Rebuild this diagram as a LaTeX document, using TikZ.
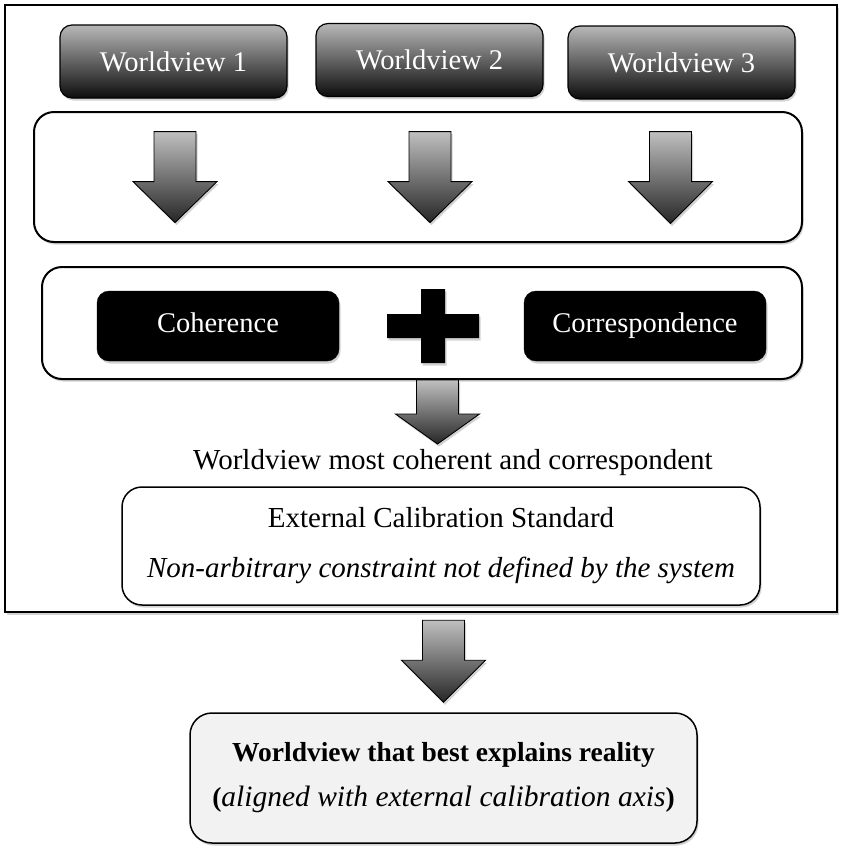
\documentclass[tikz,border=0pt]{standalone}
\usepackage{fontspec}
\setmainfont{Liberation Serif}
\usetikzlibrary{calc,shadows}

\newcommand\blockarrow[3]{\draw[blockarrow] (#1) ++(-21,0) -- ++(42,0) -- ++(0,#2) -- ++(21,0) -- ++(-42,#3) -- ++(-42,-#3) -- ++(21,0) -- cycle;}

\tikzset{
  softshadow/.style={drop shadow={opacity=0.35, shadow xshift=1.5pt, shadow yshift=-2.5pt}},
  wvbox/.style={draw=black, line width=1.2pt, rounded corners=12pt, top color=black!28, bottom color=black!95, text=white, minimum width=227pt, minimum height=73pt, softshadow, font=\fontsize{28.5}{34}\selectfont},
  critbox/.style={draw=black, fill=black, rounded corners=12pt, text=white, minimum width=242pt, minimum height=70pt, text height=19pt, text depth=6pt, softshadow, font=\fontsize{28.5}{34}\selectfont},
  panel/.style={draw=black, line width=2pt, fill=white, rounded corners=20pt, softshadow},
  calbox/.style={draw=black, line width=1.5pt, fill=white, rounded corners=20pt, minimum width=638pt, minimum height=118pt, align=center, softshadow, font=\fontsize{29}{50}\selectfont},
  resultbox/.style={draw=black, line width=1.5pt, fill=black!5, rounded corners=22pt, minimum width=507pt, minimum height=130pt, align=center, softshadow, font=\fontsize{27.5}{45}\selectfont},
  blockarrow/.style={draw=black, line width=0.9pt, top color=black!25, bottom color=black!85, softshadow}
}

\begin{document}
\begin{tikzpicture}[x=1pt, y=-1pt]
	\useasboundingbox (0,0) rectangle (841,849);
	
	%%%%% frame %%%%%
	\draw[line width=2pt, fill=white, softshadow] (5,5) rectangle (837,612);
	
	\node[wvbox] (wv1) at (173.5,61.5) {Worldview 1};
	\node[wvbox] (wv2) at (429.5,60) {Worldview 2};
	\node[wvbox] (wv3) at (681.5,62.5) {Worldview 3};
	
	\node[panel, minimum width=768pt, minimum height=130pt] (arrowpanel) at (418,177) {};
	\blockarrow{$(wv1.south)+(1.5,33)$}{50}{41}
	\blockarrow{$(wv2.south)+(0.5,34.5)$}{50}{41}
	\blockarrow{$(wv3.south)+(-11,32)$}{50}{42}
	
	\node[panel, minimum width=760pt, minimum height=112pt] (critpanel) at (422,323) {};
	\node[critbox] (coh) at (218,326) {Coherence};
	\node[critbox] (corr) at (645,326) {Correspondence};
	\fill[softshadow] (421,289) rectangle (445,363) (387,314) rectangle (479,338);
	
	\blockarrow{$(critpanel.south)+(15.5,0)$}{34}{30}
	\node[font=\fontsize{29}{34}\selectfont] (best) at (453,463) {Worldview most coherent and correspondent};
	\node[calbox] (calib) at (441,546) {External Calibration Standard\\\textit{Non-arbitrary constraint not defined by the system}};
	
	%%%%% outside %%%%%
	\node[resultbox] (result) at (443.5,778) {\textbf{Worldview that best explains reality}\\\textbf{(}{\fontsize{29.5}{45}\selectfont\textit{aligned with external calibration axis}}\textbf{)}};
	\blockarrow{$(result.north)+(0,-92)$}{40}{42}
\end{tikzpicture}
\end{document}
